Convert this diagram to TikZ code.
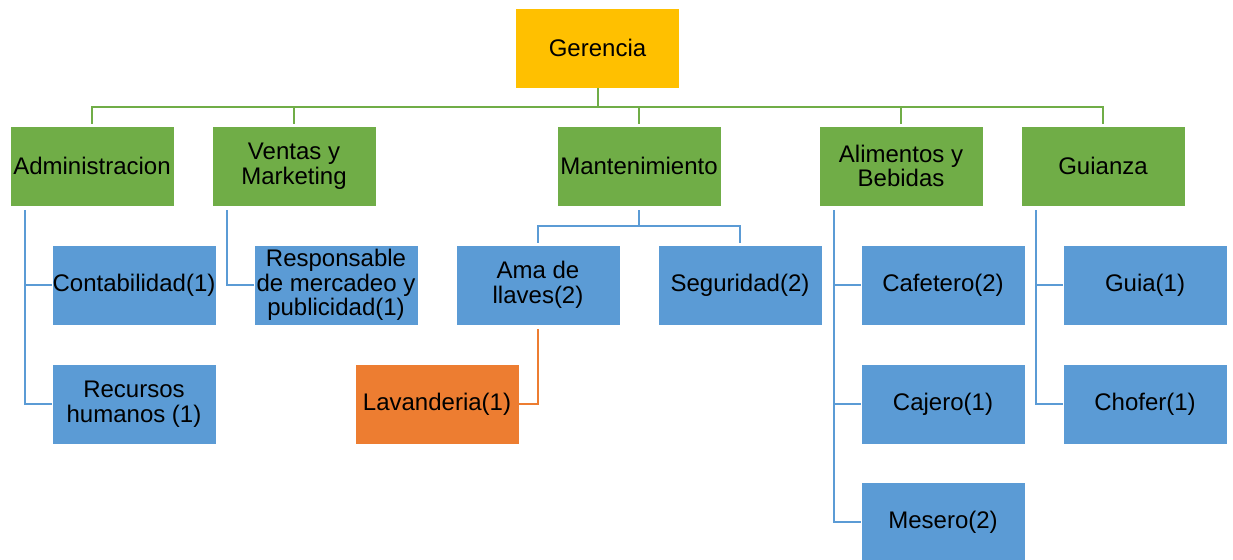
\documentclass[tikz,border=0pt]{standalone}
\usepackage{fontspec}
\setmainfont{Liberation Sans}
\definecolor{oro}{HTML}{FFC000}
\definecolor{verde}{HTML}{70AD47}
\definecolor{azul}{HTML}{5B9BD5}
\definecolor{naranja}{HTML}{ED7D31}
\tikzset{
    caja/.style={draw=white, line width=0.8pt, minimum width=164pt, minimum height=80pt,
        inner sep=0pt, align=center, font=\fontsize{24}{24.5}\selectfont},
    jefe/.style={caja, fill=oro},
    area/.style={caja, fill=verde},
    puesto/.style={caja, fill=azul},
    lav/.style={caja, fill=naranja},
    lineav/.style={draw=verde, line width=2pt},
    lineaa/.style={draw=azul, line width=2pt},
    lineao/.style={draw=naranja, line width=2pt}
}
\begin{document}
\begin{tikzpicture}[x=1pt, y=-1pt]
    \useasboundingbox (0,0) rectangle (1233,559);
    \node[jefe] (ger) at (597.5,48) {Gerencia};
    \node[area] (adm) at (92,166) {Administracion};
    \node[area] (ven) at (294,166) {Ventas y\\Marketing};
    \node[area] (man) at (639,166) {Mantenimiento};
    \node[area] (ali) at (901,166) {Alimentos y\\Bebidas};
    \node[area] (gui) at (1103,166) {Guianza};
    \node[puesto] (cont) at (134,285) {Contabilidad(1)};
    \node[puesto] (rec) at (134,404) {Recursos\\humanos (1)};
    \node[puesto] (res) at (336,285) {Responsable\\de mercadeo y\\publicidad(1)};
    \node[puesto] (ama) at (538,285) {Ama de\\llaves(2)};
    \node[puesto] (seg) at (740,285) {Seguridad(2)};
    \node[lav] (lavan) at (437,404) {Lavanderia(1)};
    \node[puesto] (caf) at (943,285) {Cafetero(2)};
    \node[puesto] (caj) at (943,404) {Cajero(1)};
    \node[puesto] (mes) at (943,522) {Mesero(2)};
    \node[puesto] (guia) at (1145,285) {Guia(1)};
    \node[puesto] (cho) at (1145,404) {Chofer(1)};
    \foreach \a in {adm,ven,man,ali,gui}
        \draw[lineav, shorten >=2pt] (ger.south) -- ++(0,19) -| (\a.north);
    \foreach \a/\b in {adm/cont,adm/rec,ven/res,ali/caf,ali/caj,ali/mes,gui/guia,gui/cho}
        \draw[lineaa] ([xshift=15pt,yshift=-4pt]\a.south west) |- (\b.west);
    \draw[lineaa, shorten >=2pt] ([yshift=-4pt]man.south) -- ++(0,16) -| (ama.north);
    \draw[lineaa, shorten >=2pt] ([yshift=-4pt]man.south) -- ++(0,16) -| (seg.north);
    \draw[lineao] ([yshift=-4pt]ama.south) |- (lavan.east);
\end{tikzpicture}
\end{document}
